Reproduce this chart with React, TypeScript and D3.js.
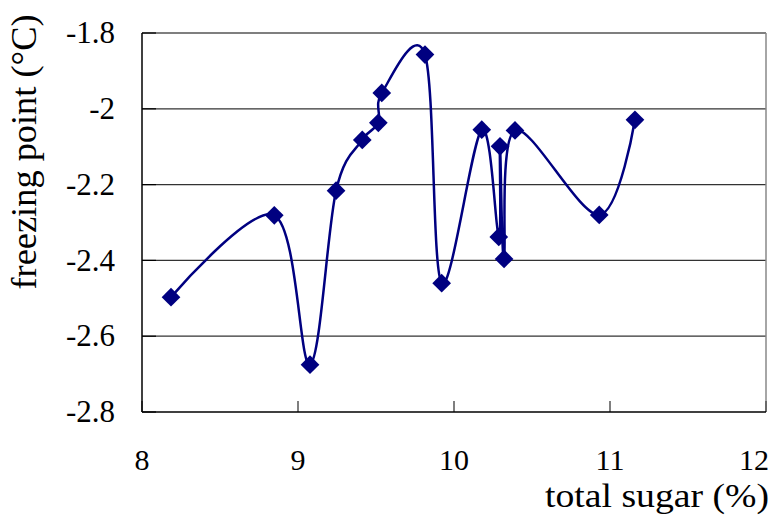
import React from "react";
import * as d3 from "d3";

const sugar = [8.186, 8.848, 9.077, 9.244, 9.412, 9.515, 9.537, 9.814, 9.921, 10.178, 10.287, 10.295, 10.321, 10.391, 10.931, 11.16];
const freezing = [-2.497, -2.281, -2.675, -2.216, -2.082, -2.037, -1.958, -1.857, -2.46, -2.055, -2.338, -2.099, -2.396, -2.057, -2.28, -2.029];
const xTicks = [8, 9, 10, 11, 12];
const yTicks = [-1.8, -2, -2.2, -2.4, -2.6, -2.8];
const yTickLabels = ["-1.8", "-2", "-2.2", "-2.4", "-2.6", "-2.8"];

const W = 779;
const H = 519;
const L = 142, R = 766, T = 33, B = 412;
const FONT = "Liberation Serif";

export default function App() {
  const x = d3.scaleLinear().domain([8, 12]).range([L, R]);
  const y = d3.scaleLinear().domain([-2.8, -1.8]).range([B, T]);
  const pts: [number, number][] = sugar.map((s, i) => [x(s), y(freezing[i])]);
  const line = d3.line().curve(d3.curveCardinal.tension(0))(pts) || "";
  const diamond = d3.symbol().type(d3.symbolSquare).size(175)() || "";

  return (
    <svg width={W} height={H} style={{ position: "absolute", left: 0, top: 0, background: "#fff" }}>
      <rect x={0} y={0} width={W} height={H} fill="#fff" />
      {yTicks.filter((t) => t !== -2.8 && t !== -1.8).map((t) => (
        <line key={t} x1={L} x2={R} y1={y(t)} y2={y(t)} stroke="#333" strokeWidth={1.2} />
      ))}
      <line x1={L} x2={R} y1={T} y2={T} stroke="#555" strokeWidth={1.5} />
      <line x1={R} x2={R} y1={T} y2={B} stroke="#888" strokeWidth={1.5} />
      {yTicks.map((t) => (
        <line key={"yt" + t} x1={L} x2={L + 14} y1={y(t)} y2={y(t)} stroke="#000" strokeWidth={1.2} />
      ))}
      {xTicks.map((t) => (
        <line key={"xt" + t} x1={x(t)} x2={x(t)} y1={B} y2={B - 11} stroke="#555" strokeWidth={1.5} />
      ))}
      <line x1={L} x2={L} y1={T} y2={B} stroke="#000" strokeWidth={1.5} />
      <line x1={L} x2={R} y1={B} y2={B} stroke="#000" strokeWidth={1.5} />
      {yTicks.map((t, i) => (
        <text key={"yl" + t} x={115} y={y(t)} dy="0.33em" textAnchor="end" fontSize={31} fontFamily={FONT} fill="#000">
          {yTickLabels[i]}
        </text>
      ))}
      {xTicks.map((t) => (
        <text key={"xl" + t} x={t === 12 ? 769 : x(t)} y={470} textAnchor={t === 12 ? "end" : "middle"} fontSize={30} fontFamily={FONT} fill="#000">
          {t}
        </text>
      ))}
      <path d={line} fill="none" stroke="#000080" strokeWidth={2.5} strokeLinejoin="round" />
      {pts.map((p, i) => (
        <path key={i} d={diamond} transform={`translate(${p[0]},${p[1]}) rotate(45)`} fill="#000080" />
      ))}
      <text x={769} y={507} textAnchor="end" fontSize={34} fontFamily={FONT} fill="#000" textLength={224} lengthAdjust="spacingAndGlyphs">
        total sugar (%)
      </text>
      <text transform={`translate(36,152) rotate(-90)`} textAnchor="middle" fontSize={36} fontFamily={FONT} fill="#000" textLength={275} lengthAdjust="spacingAndGlyphs">
        freezing point (°C)
      </text>
    </svg>
  );
}
